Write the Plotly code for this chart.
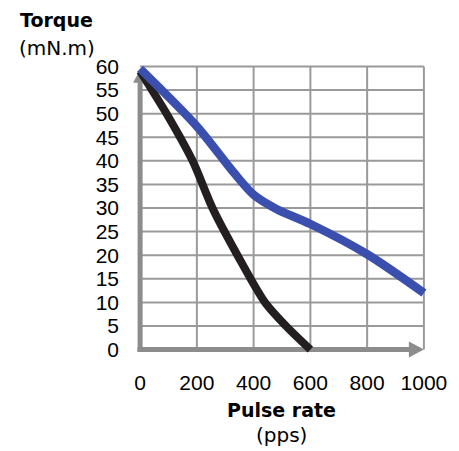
import plotly.graph_objects as go

# ---- data ----
pulse_black = [0, 100, 185, 255, 343, 440, 514, 600]
torque_black = [59, 49.3, 40, 30, 20, 10, 5, 0]

pulse_blue = [0, 200, 330, 400, 480, 600, 800, 1000]
torque_blue = [59.5, 47.3, 37.5, 32.8, 29.8, 26.6, 20.2, 12]

x_ticks = [0, 200, 400, 600, 800, 1000]
y_ticks = [0, 5, 10, 15, 20, 25, 30, 35, 40, 45, 50, 55, 60]

y_title = "Torque"
y_unit = "(mN.m)"
x_title = "Pulse rate"
x_unit = "(pps)"

# ---- layout geometry (page body has an 8px margin) ----
OFF = 8
W, H = 459 - OFF, 451 - OFF
L, R, T, B = 133 - OFF, 19, 57 - OFF, 92
PW, PH = W - L - R, H - T - B
XR = [-25, 1025]
YR = [-2, 62]

def px(xp):
    return (xp - OFF - L) / PW

def py(yp):
    return 1 - (yp - OFF - T) / PH

GRID = "#9a9a9a"
AXIS = "#8c8c8c"
BLUE = "#3a4fae"
BLACK = "#231f20"

fig = go.Figure()
fig.add_trace(go.Scatter(x=pulse_black, y=torque_black, mode="lines",
                         line=dict(color=BLACK, width=8, shape="spline", smoothing=0.8),
                         hoverinfo="skip", showlegend=False))
fig.add_trace(go.Scatter(x=pulse_blue, y=torque_blue, mode="lines",
                         line=dict(color=BLUE, width=8.5, shape="spline", smoothing=0.8),
                         hoverinfo="skip", showlegend=False))

shapes = []
# grid
for yv in y_ticks[1:]:
    shapes.append(dict(type="line", xref="x", yref="y", x0=x_ticks[0], x1=x_ticks[-1], y0=yv, y1=yv,
                       line=dict(color=GRID, width=2), layer="below"))
for xv in x_ticks[1:]:
    shapes.append(dict(type="line", xref="x", yref="y", x0=xv, x1=xv, y0=y_ticks[0], y1=y_ticks[-1],
                       line=dict(color=GRID, width=2), layer="below"))
# axes with arrows
shapes.append(dict(type="line", xref="x", yref="y", x0=-9, x1=960, y0=0, y1=0,
                   line=dict(color=AXIS, width=5), layer="below"))
shapes.append(dict(type="line", xref="x", yref="y", x0=0, x1=0, y0=-0.5, y1=57,
                   line=dict(color=AXIS, width=5), layer="below"))
shapes.append(dict(type="path", xref="x", yref="y", xsizemode="pixel", ysizemode="pixel",
                   xanchor=x_ticks[-1], yanchor=0, path="M -15,-8 L 0,0 L -15,8 Z",
                   fillcolor=AXIS, line=dict(width=0), layer="below"))
shapes.append(dict(type="path", xref="x", yref="y", xsizemode="pixel", ysizemode="pixel",
                   xanchor=0, yanchor=59.3, path="M -7,-13 L 0,0 L 7,-13 Z",
                   fillcolor=AXIS, line=dict(width=0), layer="below"))

annotations = [
    dict(text="<b>" + y_title + "</b>", xref="paper", yref="paper", x=px(54.5), y=py(20),
         xanchor="center", yanchor="middle", showarrow=False,
         font=dict(family="DejaVu Sans", size=19, color="black")),
    dict(text=y_unit, xref="paper", yref="paper", x=px(54.5), y=py(48),
         xanchor="center", yanchor="middle", showarrow=False,
         font=dict(family="DejaVu Sans", size=20, color="black")),
    dict(text="<b>" + x_title + "</b>", xref="paper", yref="paper", x=px(286), y=py(410),
         xanchor="center", yanchor="middle", showarrow=False,
         font=dict(family="DejaVu Sans", size=19, color="black")),
    dict(text=x_unit, xref="paper", yref="paper", x=px(286), y=py(435),
         xanchor="center", yanchor="middle", showarrow=False,
         font=dict(family="DejaVu Sans", size=20, color="black")),
]

fig.update_layout(
    width=W, height=H,
    margin=dict(l=L, r=R, t=T, b=B, pad=0),
    paper_bgcolor="white", plot_bgcolor="white",
    shapes=shapes, annotations=annotations,
    xaxis=dict(range=XR, tickvals=x_ticks, ticktext=[str(v) for v in x_ticks],
               showgrid=False, zeroline=False, showline=False, ticks="",
               ticklabelstandoff=9,
               tickfont=dict(family="Liberation Sans", size=21, color="black"), fixedrange=True),
    yaxis=dict(range=YR, tickvals=y_ticks, ticktext=[str(v) for v in y_ticks],
               showgrid=False, zeroline=False, showline=False, ticks="",
               ticklabelstandoff=13,
               tickfont=dict(family="Liberation Sans", size=21, color="black"), fixedrange=True),
)

fig.write_html("out.html", config={"displayModeBar": False})
